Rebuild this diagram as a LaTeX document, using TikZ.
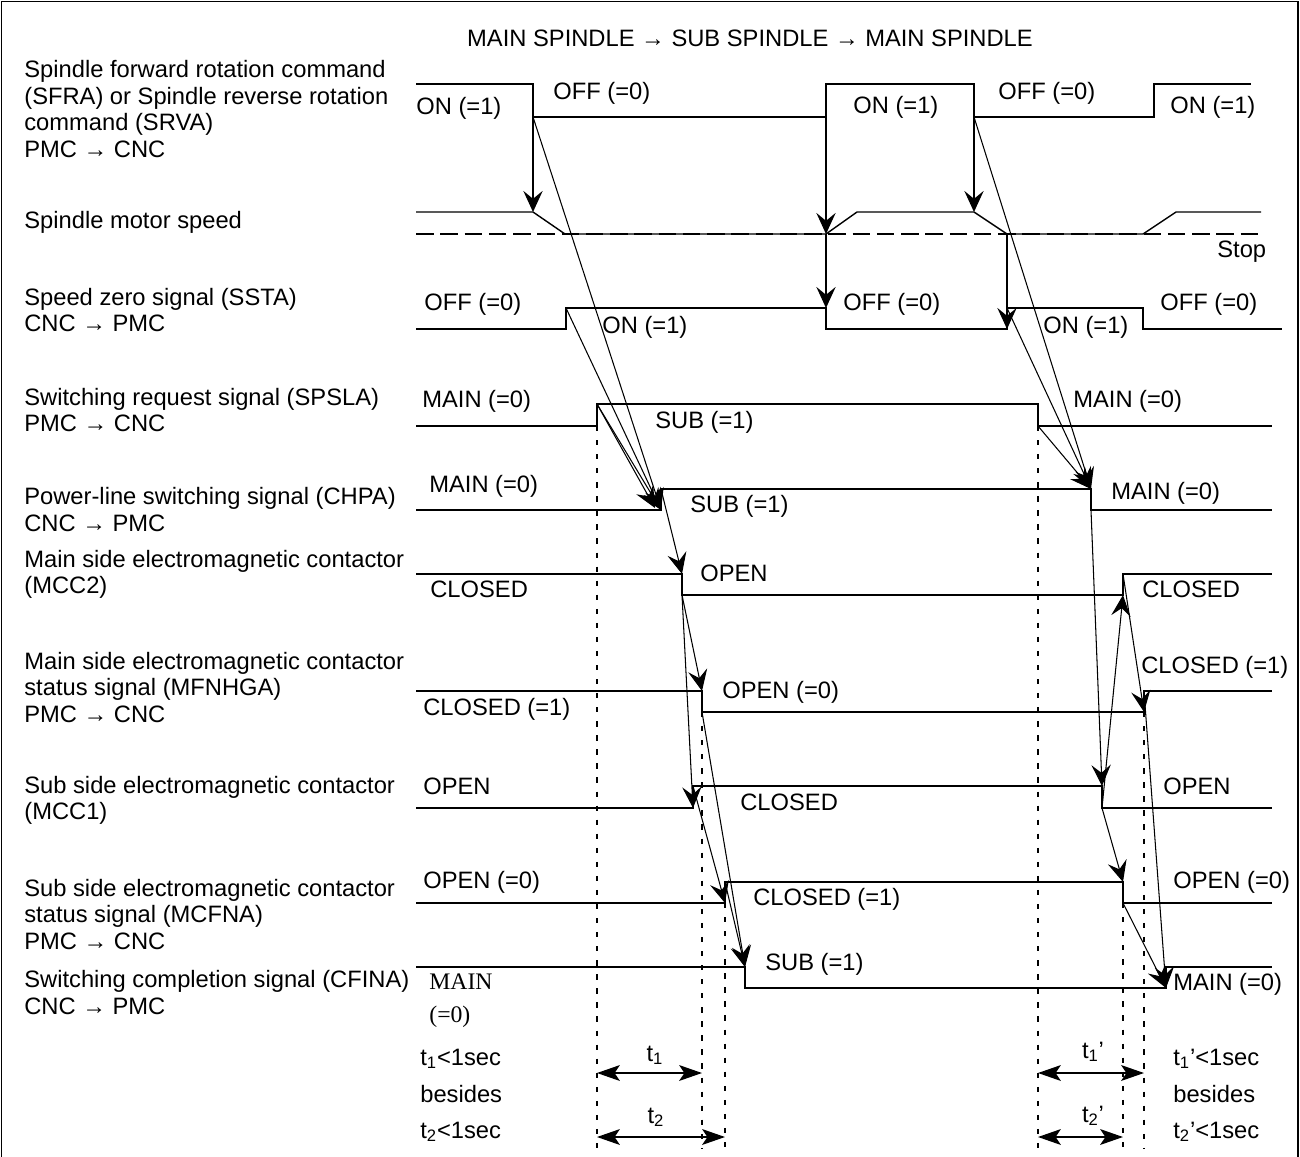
\documentclass[tikz,border=0pt]{standalone}
\usepackage{fontspec}
\setmainfont{Liberation Sans}
\newfontfamily\timesfont{Liberation Serif}
\usetikzlibrary{arrows.meta}

\tikzset{
  wave/.style={line width=0.8pt},
  cause/.style={line width=0.6pt,-{Stealth[length=12pt,width=11pt,inset=4.5pt]}},
  guide/.style={line width=0.6pt,dash pattern=on 3pt off 5pt},
  stopline/.style={line width=0.8pt,dash pattern=on 10pt off 3.8pt},
  span/.style={line width=0.8pt,{Stealth[length=13pt,width=9pt,inset=3pt]}-{Stealth[length=13pt,width=9pt,inset=3pt]}},
  lvl/.style={inner sep=0pt,anchor=base west},
  signame/.style={inner sep=0pt,anchor=west,align=left},
}

\begin{document}
\begin{tikzpicture}[x=0.2mm,y=-0.2mm,font=\fontsize{13.5}{15.1}\selectfont]
\useasboundingbox (0,0) rectangle (1300,1157);
\draw[line width=0.8pt] (1.5,1160) -- (1.5,1.5) -- (1298,1.5) -- (1298,1160);

\node[anchor=base,inner sep=0pt] (title) at (750,46.5) {MAIN SPINDLE → SUB SPINDLE → MAIN SPINDLE};

\node[signame] (nSFRA) at (24,109) {Spindle forward rotation command\\(SFRA) or Spindle reverse rotation\\command (SRVA)\\PMC → CNC};
\node[signame] (nSPD) at (24,222) {Spindle motor speed};
\node[signame] (nSSTA) at (24,310) {Speed zero signal (SSTA)\\CNC → PMC};
\node[signame] (nSPSLA) at (24,410) {Switching request signal (SPSLA)\\PMC → CNC};
\node[signame] (nCHPA) at (24,509.5) {Power-line switching signal (CHPA)\\CNC → PMC};
\node[signame] (nMCC2) at (24,574.5) {Main side electromagnetic contactor\\(MCC2)};
\node[signame] (nMFNHGA) at (24,687.5) {Main side electromagnetic contactor\\status signal (MFNHGA)\\PMC → CNC};
\node[signame] (nMCC1) at (24,800.5) {Sub side electromagnetic contactor\\(MCC1)};
\node[signame] (nMCFNA) at (24,914.5) {Sub side electromagnetic contactor\\status signal (MCFNA)\\PMC → CNC};
\node[signame] (nCFINA) at (24,992.5) {Switching completion signal (CFINA)\\CNC → PMC};

\coordinate (sfraA) at (533,117);
\coordinate (sfraB) at (826,117);
\coordinate (sfraC) at (974,117);
\coordinate (spdA) at (533,212);
\coordinate (spdB) at (826,234);
\coordinate (spdC) at (974,212);
\coordinate (spdD) at (1007,234);
\coordinate (sstaA) at (566,308);
\coordinate (sstaB) at (826,308);
\coordinate (sstaC) at (1007,329);
\coordinate (sstaD) at (1007,308);
\coordinate (spslaA) at (597,404);
\coordinate (spslaB) at (1038,426);
\coordinate (chpaA) at (661,510);
\coordinate (chpaB) at (661,489);
\coordinate (chpaC) at (1091,489);
\coordinate (chpaD) at (1091,510);
\coordinate (chpaE) at (655,508);
\coordinate (mccbA) at (682,574);
\coordinate (mccbB) at (682,595);
\coordinate (mccbC) at (1123,595);
\coordinate (mccbD) at (1123,574);
\coordinate (mfnA) at (702,691);
\coordinate (mfnB) at (702,712);
\coordinate (mfnC) at (1144,712);
\coordinate (mfnD) at (1144,691);
\coordinate (mccaA) at (693,808);
\coordinate (mccaB) at (693,786);
\coordinate (mccaC) at (1102,786);
\coordinate (mccaD) at (1102,808);
\coordinate (mcfA) at (725,903);
\coordinate (mcfB) at (725,882);
\coordinate (mcfC) at (1123,882);
\coordinate (mcfD) at (1123,903);
\coordinate (cfinA) at (745,967);
\coordinate (cfinB) at (745,988);
\coordinate (cfinC) at (1166,988);
\coordinate (cfinD) at (1166,967);

\draw[stopline] (416,234) -- (1261,234);
\draw[wave] (416,84) -- (533,84) -- (sfraA) -- (sfraB) -- (826,84) -- (974,84) -- (sfraC) -- (1154,117) -- (1154,84) -- (1251,84);
\draw[wave] (416,212) -- (spdA) -- (565,234) -- (spdB) -- (857,212) -- (spdC) -- (spdD) -- (1143,234) -- (1176,212) -- (1261,212);
\draw[wave] (416,329) -- (566,329) -- (sstaA) -- (sstaB) -- (826,329) -- (sstaC) -- (sstaD) -- (1143,308) -- (1143,329) -- (1282,329);
\draw[wave] (416,426) -- (597,426) -- (spslaA) -- (1038,404) -- (spslaB) -- (1272,426);
\draw[wave] (416,510) -- (chpaA) -- (chpaB) -- (chpaC) -- (chpaD) -- (1272,510);
\draw[wave] (416,574) -- (mccbA) -- (mccbB) -- (mccbC) -- (mccbD) -- (1272,574);
\draw[wave] (416,691) -- (mfnA) -- (mfnB) -- (mfnC) -- (mfnD) -- (1272,691);
\draw[wave] (416,808) -- (mccaA) -- (mccaB) -- (mccaC) -- (mccaD) -- (1272,808);
\draw[wave] (416,903) -- (mcfA) -- (mcfB) -- (mcfC) -- (mcfD) -- (1272,903);
\draw[wave] (416,967) -- (cfinA) -- (cfinB) -- (cfinC) -- (cfinD) -- (1272,967);

\foreach \x/\y in {597/426,702/712,725/903,1038/426,1123/903,1144/712}
	\draw[guide] (\x,\y) -- (\x,1148);

\foreach \a/\b in {sfraA/spdA,sfraA/chpaA,sstaA/chpaA,spslaA/chpaA,spslaA/chpaE,
	sfraB/spdB,spdB/sstaB,sfraC/spdC,sfraC/chpaC,sstaD/chpaC,spslaB/chpaC,spdD/sstaC,
	chpaB/mccbA,mccbB/mfnA,mccbB/mccaA,mfnB/cfinA,mccaB/mcfA,mcfB/cfinA,
	chpaD/mccaC,mccaD/mccbC,mccbD/mfnC,mccaD/mcfC,mcfD/cfinC,mfnD/cfinC}
	\draw[cause] (\a) -- (\b);

\node[lvl] (sfra1) at (416,114.5) {ON (=1)};
\node[lvl] (sfra2) at (553,99.5) {OFF (=0)};
\node[lvl] (sfra3) at (853,113.5) {ON (=1)};
\node[lvl] (sfra4) at (998,99.5) {OFF (=0)};
\node[lvl] (sfra5) at (1170,113.5) {ON (=1)};
\node[lvl] (stop) at (1217,257.5) {Stop};
\node[lvl] (ssta1) at (424,310) {OFF (=0)};
\node[lvl] (ssta2) at (602,333.5) {ON (=1)};
\node[lvl] (ssta3) at (843,310.5) {OFF (=0)};
\node[lvl] (ssta4) at (1043,333.5) {ON (=1)};
\node[lvl] (ssta5) at (1160,310.5) {OFF (=0)};
\node[lvl] (spsla1) at (422,407) {MAIN (=0)};
\node[lvl] (spsla2) at (655,428.5) {SUB (=1)};
\node[lvl] (spsla3) at (1073,407) {MAIN (=0)};
\node[lvl] (chpa1) at (429,492) {MAIN (=0)};
\node[lvl] (chpa2) at (690,512.5) {SUB (=1)};
\node[lvl] (chpa3) at (1111,499) {MAIN (=0)};
\node[lvl] (mccb1) at (430,597) {CLOSED};
\node[lvl] (mccb2) at (700,581) {OPEN};
\node[lvl] (mccb3) at (1142,597) {CLOSED};
\node[lvl] (mfn1) at (423,715) {CLOSED (=1)};
\node[lvl] (mfn2) at (722,698.5) {OPEN (=0)};
\node[lvl] (mfn3) at (1141,673.5) {CLOSED (=1)};
\node[lvl] (mcca1) at (423,794.5) {OPEN};
\node[lvl] (mcca2) at (740,810) {CLOSED};
\node[lvl] (mcca3) at (1163,794.5) {OPEN};
\node[lvl] (mcf1) at (423,888.5) {OPEN (=0)};
\node[lvl] (mcf2) at (753,905.5) {CLOSED (=1)};
\node[lvl] (mcf3) at (1173,888.5) {OPEN (=0)};
\node[lvl] (cfin1) at (429,989.5) {\timesfont MAIN};
\node[lvl] (cfin2) at (429,1022) {\timesfont (=0)};
\node[lvl] (cfin3) at (765,970.5) {SUB (=1)};
\node[lvl] (cfin4) at (1173,990) {MAIN (=0)};

\coordinate (tA) at (597,1073);
\coordinate (tB) at (702,1073);
\coordinate (tC) at (597,1137);
\coordinate (tD) at (725,1137);
\coordinate (tE) at (1038,1073);
\coordinate (tF) at (1144,1073);
\coordinate (tG) at (1038,1137);
\coordinate (tH) at (1123,1137);
\draw[span] (tA) -- (tB);
\draw[span] (tC) -- (tD);
\draw[span] (tE) -- (tF);
\draw[span] (tG) -- (tH);
\node[anchor=base,inner sep=0pt] (t1) at (655,1061) {t\textsubscript{1}};
\node[anchor=base,inner sep=0pt] (t2) at (656,1123) {t\textsubscript{2}};
\node[anchor=base,inner sep=0pt] (t1p) at (1093,1058) {t\textsubscript{1}'};
\node[anchor=base,inner sep=0pt] (t2p) at (1093,1122) {t\textsubscript{2}'};
\node[lvl] (lim1) at (420,1065) {t\textsubscript{1}<1sec};
\node[lvl] (bes1) at (420,1102) {besides};
\node[lvl] (lim2) at (420,1138) {t\textsubscript{2}<1sec};
\node[lvl] (lim3) at (1173,1065) {t\textsubscript{1}'<1sec};
\node[lvl] (bes2) at (1173,1102) {besides};
\node[lvl] (lim4) at (1173,1138) {t\textsubscript{2}'<1sec};
\end{tikzpicture}
\end{document}
